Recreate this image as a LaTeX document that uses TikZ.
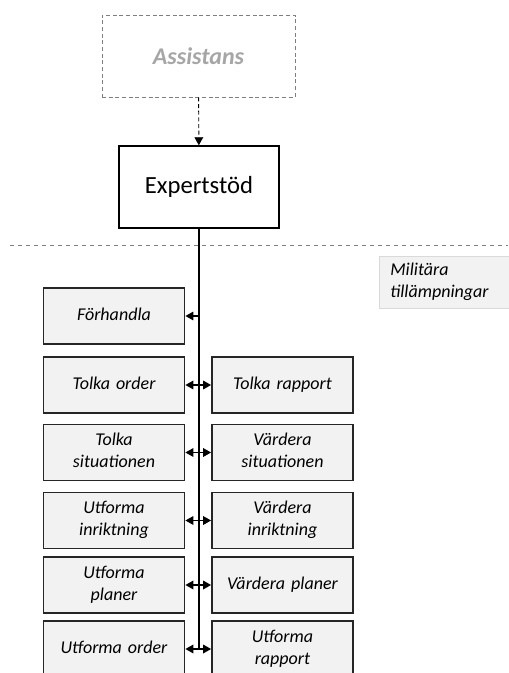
\documentclass[tikz,border=0pt]{standalone}
\usepackage{fontspec}
\setmainfont{Carlito}
\usepackage{xcolor}
\usetikzlibrary{arrows.meta,positioning}
\definecolor{boxline}{HTML}{262626}
\definecolor{boxfill}{HTML}{F2F2F2}
\definecolor{ghost}{HTML}{A6A6A6}
\definecolor{ghostline}{HTML}{7F7F7F}
\definecolor{tagline}{HTML}{D9D9D9}
\newcommand{\taskstrut}{\rule[-3.4pt]{0pt}{13.4pt}}
\tikzset{
  task/.style={draw=boxline,line width=1.1pt,fill=boxfill,
    minimum width=106pt,minimum height=42pt,inner sep=2pt,
    text width=100pt,align=center,font=\fontsize{13.5}{16.5}\selectfont\itshape,
    execute at begin node=\taskstrut,execute at end node=\taskstrut},
  ghostbox/.style={draw=ghostline,densely dashed,line width=0.6pt,
    minimum width=144.75pt,minimum height=61.5pt,text=ghost,
    font=\fontsize{18}{20}\selectfont\bfseries\itshape},
  corebox/.style={draw=black,line width=1.1pt,fill=white,
    minimum width=120pt,minimum height=61.5pt,font=\fontsize{18.5}{20}\selectfont},
  tagbox/.style={draw=tagline,line width=0.5pt,fill=boxfill,anchor=west,
    minimum height=39pt,inner xsep=8.25pt,text width=100pt,
    align=left,font=\fontsize{13.5}{16.5}\selectfont\itshape},
  tip/.style={-{Triangle[length=6pt,width=6.5pt]}},
  link/.style={line width=0.9pt,tip},
  twolink/.style={line width=0.9pt,{Triangle[length=6pt,width=6.5pt]}-{Triangle[length=6pt,width=6.5pt]}},
}
\begin{document}
\begin{tikzpicture}[x=0.75pt,y=-0.75pt]
\useasboundingbox (0,0) rectangle (508,673);

% top of the chain
\node[ghostbox] (assist) at (198.5,56) {Assistans};
\node[corebox] (expert) at (199,187) {Expertstöd};
\draw[densely dashed,line width=0.7pt,tip] (assist) -- (expert);

% split between support and applications
\draw[ghostline,dashed,line width=0.5pt] (10,245) -- (508,245);
\node[tagbox] (milapp) at (379,282) {Militära\\tillämpningar};

% left column
\node[task] (forh) at (114,316) {Förhandla};
\node[task] (tolkord) at (114,385) {Tolka order};
\node[task] (tolksit) at (114,452.5) {Tolka\\situationen};
\node[task] (utfinr) at (114,520.5) {Utforma\\inriktning};
\node[task] (utfpla) at (114,585) {Utforma\\planer};
\node[task] (utford) at (114,649) {Utforma order};

% right column
\node[task] (tolkrap) at (282.5,385) {Tolka rapport};
\node[task] (vardsit) at (282.5,452.5) {Värdera\\situationen};
\node[task] (vardinr) at (282.5,520.5) {Värdera\\inriktning};
\node[task] (vardpla) at (282.5,585) {Värdera planer};
\node[task] (utfrap) at (282.5,649) {Utforma\\rapport};

% trunk down from the expert node
\coordinate (trunk) at (199,649);
\draw[line width=0.9pt] (expert.south) -- (trunk);
\draw[link] (trunk |- forh.east) -- (forh.east);
\foreach \l/\r in {tolkord/tolkrap,tolksit/vardsit,utfinr/vardinr,utfpla/vardpla,utford/utfrap}
  \draw[twolink] (\l.east) -- (\r.west);
\end{tikzpicture}
\end{document}
